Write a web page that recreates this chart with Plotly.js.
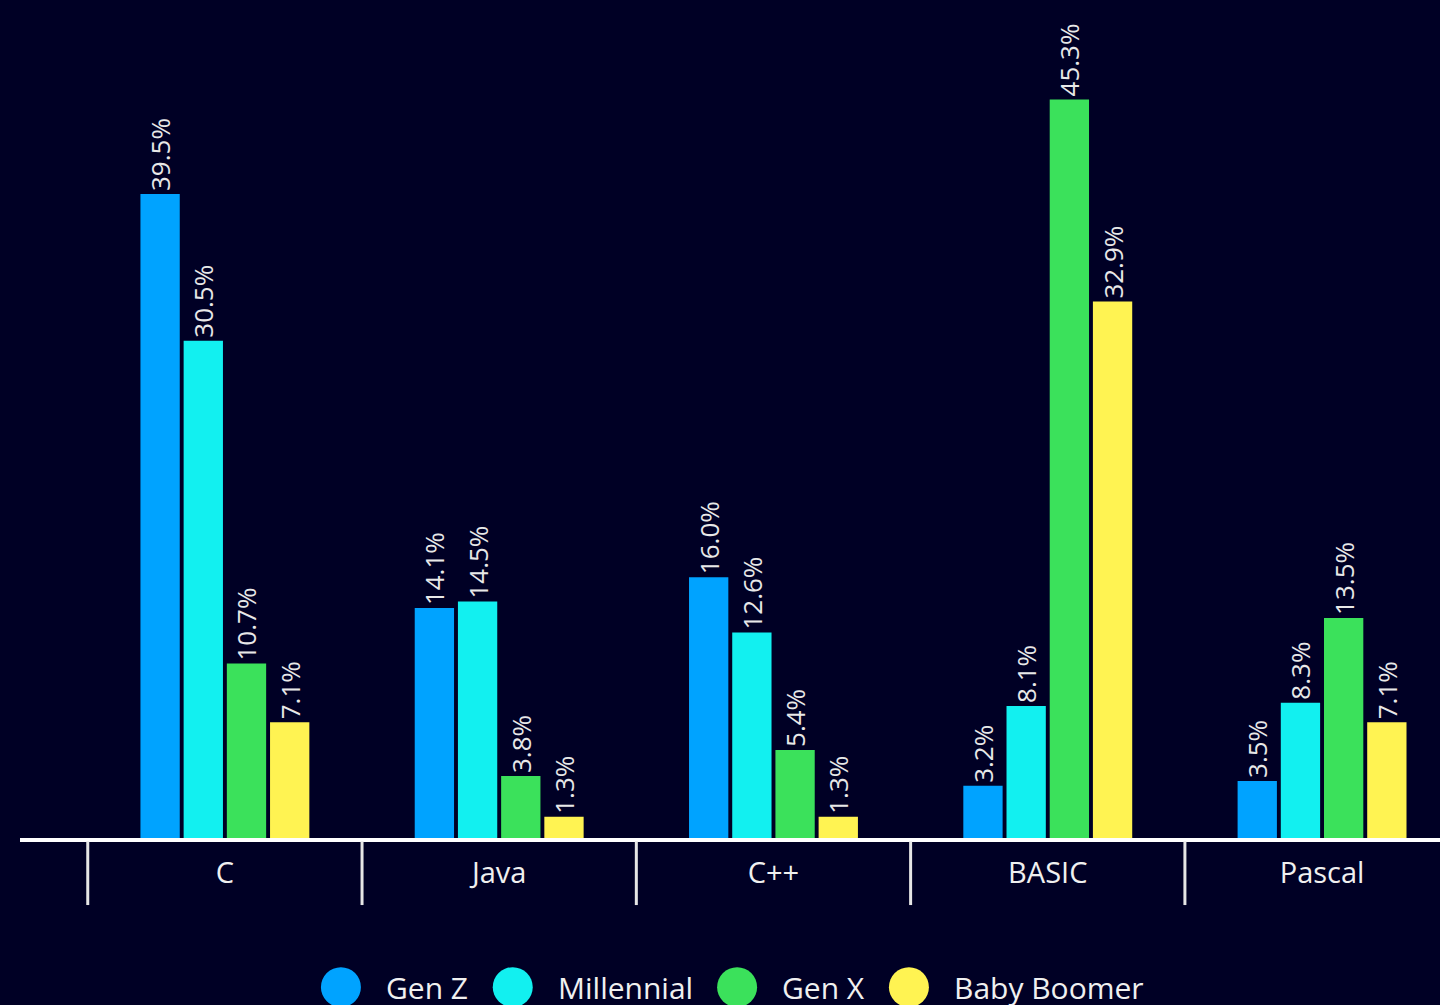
<!DOCTYPE html>
<html><head><meta charset="utf-8">
<script src="https://cdn.plot.ly/plotly-3.0.1.min.js"></script>
<style>html,body{margin:0;padding:0;background:#000025;}#chart{width:1440px;height:1005px;}</style>
</head><body><div id="chart"></div>
<script>
const categories = ["C", "Java", "C++", "BASIC", "Pascal"];
const seriesNames = ["Gen Z", "Millennial", "Gen X", "Baby Boomer"];
const genZ = [39.5, 14.1, 16.0, 3.2, 3.5];
const millennial = [30.5, 14.5, 12.6, 8.1, 8.3];
const genX = [10.7, 3.8, 5.4, 45.3, 13.5];
const babyBoomer = [7.1, 1.3, 1.3, 32.9, 7.1];
const seriesValues = [genZ, millennial, genX, babyBoomer];
const colors = ["#00A3FF", "#12F0F0", "#3BE15B", "#FFF352"];

const BG = "#000025";
const FONT = "Open Sans, Noto Sans, sans-serif";

const traces = seriesNames.map((name, i) => ({
  type: "bar",
  name: name,
  x: categories,
  y: seriesValues[i],
  marker: {color: colors[i], line: {width: 0}},
  text: seriesValues[i].map(v => v.toFixed(1) + "%\u00a0"),
  textposition: "outside",
  textangle: -90,
  constraintext: "none",
  cliponaxis: false,
  textfont: {family: FONT, size: 26, color: "#E8E8E8"},
  showlegend: false,
  hoverinfo: "x+y+name"
}));

// category boundary dividers
const shapes = [];
for (let i = 0; i < categories.length; i++) {
  shapes.push({
    type: "line", xref: "x", yref: "paper",
    x0: i - 0.5, x1: i - 0.5, y0: -0.004, y1: -0.08,
    line: {color: "#E6E6E6", width: 3}
  });
}
// custom legend (circle markers)
const legendX = [0.226, 0.347, 0.505, 0.626];
const legendY = -0.178;
const annotations = [];
seriesNames.forEach((name, i) => {
  shapes.push({
    type: "circle", xref: "paper", yref: "paper",
    xsizemode: "pixel", ysizemode: "pixel",
    xanchor: legendX[i], yanchor: legendY,
    x0: -20, x1: 20, y0: -20, y1: 20,
    fillcolor: colors[i], line: {width: 0}
  });
  annotations.push({
    xref: "paper", yref: "paper", x: legendX[i], y: legendY,
    xshift: 43, xanchor: "left", yanchor: "middle", showarrow: false,
    text: name, font: {family: FONT, size: 30, color: "#F0F0F0"}
  });
});

const layout = {
  width: 1440, height: 1005,
  paper_bgcolor: BG, plot_bgcolor: BG,
  margin: {l: 20, r: 0, t: 0, b: 167},
  barmode: "group",
  bargap: 0.37,
  bargroupgap: 0.09,
  font: {family: FONT, color: "#F0F0F0"},
  xaxis: {
    type: "category",
    range: [-0.747, 4.43],
    showline: true, linecolor: "#FFFFFF", linewidth: 4,
    showgrid: false, zeroline: false,
    ticks: "",
    ticklabelstandoff: 6,
    tickfont: {family: FONT, size: 29, color: "#F0F0F0"},
    fixedrange: true
  },
  yaxis: {
    range: [0, 51.4],
    visible: false,
    showgrid: false, zeroline: false,
    fixedrange: true
  },
  shapes: shapes,
  annotations: annotations,
  showlegend: false
};

Plotly.newPlot("chart", traces, layout, {displayModeBar: false, staticPlot: true});
</script></body></html>
